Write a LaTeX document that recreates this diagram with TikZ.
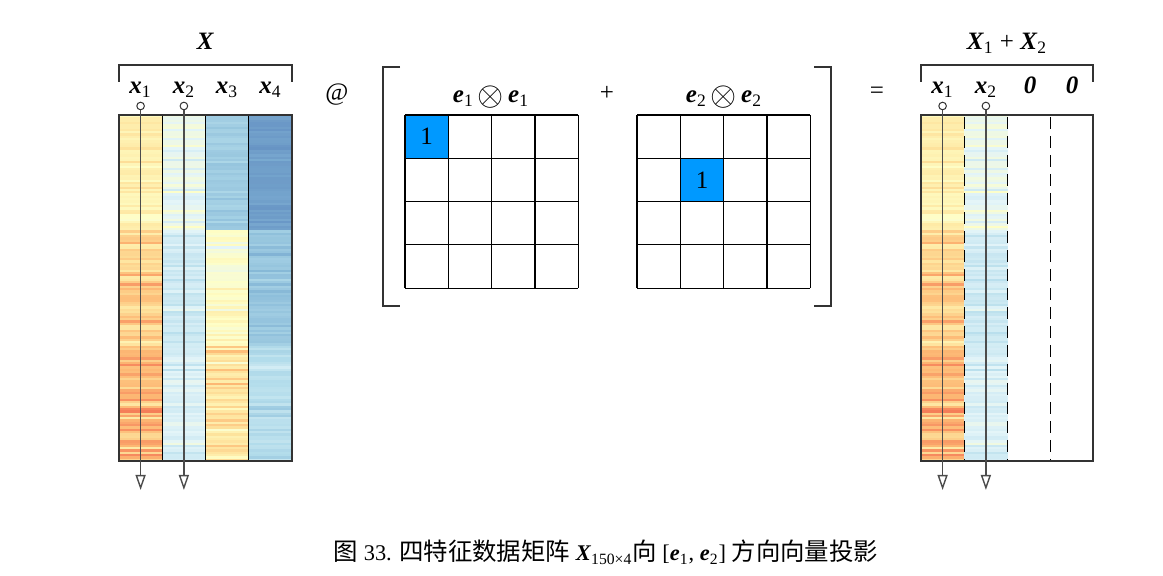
\documentclass[tikz,border=0pt]{standalone}
\usepackage{graphicx}
\usepackage{fontspec}
\setmainfont{Liberation Serif}
\newfontfamily\cjk[Scale=1.09]{Noto Sans CJK SC}
\usetikzlibrary{arrows.meta}
\definecolor{cellblue}{RGB}{0,153,255}
\newcommand{\bvec}[2]{\textbf{\textit{#1}}\textsubscript{#2}}
\newcommand{\kron}{\,\raisebox{-0.2ex}{\scalebox{1.4}{$\otimes$}}\,}
\def\stopR{{49,69,116,171,224,255,254,253,244,215,165}}
\def\stopG{{54,117,173,217,243,255,224,174,109,48,0}}
\def\stopB{{149,180,209,233,248,191,144,97,67,39,38}}
\def\irisMu{{5.01,5.94,6.59,3.43,2.77,2.97,1.46,4.26,5.55,0.25,1.33,2.03}}
\def\irisSd{{0.35,0.52,0.64,0.38,0.31,0.32,0.17,0.47,0.55,0.11,0.20,0.27}}

\begin{document}
\begin{tikzpicture}[x=0.5pt, y=-0.5pt,
	lbl/.style={font=\fontsize{12.5}{14}\selectfont, anchor=base},
	sym/.style={font=\fontsize{12.5}{14}\selectfont},
	vecdot/.style={circle, draw=black!80, fill=white, line width=0.5pt, inner sep=0pt, minimum size=3.8pt},
	vecline/.style={draw=black!70, line width=0.7pt, -{Triangle[open, length=7.5pt, width=5pt]}},
	brkt/.style={draw=black!80, line width=0.7pt},
	cellgrid/.style={draw=black, line width=0.6pt}]
	\useasboundingbox (0,0) rectangle (1163,576);

	% heat maps of X and of X1 + X2
	\pgfmathsetseed{150}
	\foreach \row in {0,...,149}{
		\pgfmathtruncatemacro\grp{int(\row/50)}
		\pgfmathsetmacro\ytop{115+\row*2.30667}
		\foreach \col in {0,...,3}{
			\pgfmathsetmacro\val{\irisMu[3*\col+\grp]+\irisSd[3*\col+\grp]*(rand+rand+rand)}
			\pgfmathsetmacro\tval{min(max(0.13+0.085*\val,0),0.999)}
			\pgfmathtruncatemacro\seg{floor(10*\tval)}
			\pgfmathsetmacro\fpart{10*\tval-\seg}
			\pgfmathtruncatemacro\valR{\stopR[\seg]*(1-\fpart)+\stopR[\seg+1]*\fpart}
			\pgfmathtruncatemacro\valG{\stopG[\seg]*(1-\fpart)+\stopG[\seg+1]*\fpart}
			\pgfmathtruncatemacro\valB{\stopB[\seg]*(1-\fpart)+\stopB[\seg+1]*\fpart}
			\definecolor{cellc}{RGB}{\valR,\valG,\valB}
			\fill[cellc!88!white] ({119+43.25*\col},\ytop) rectangle ({162.25+43.25*\col},{\ytop+2.6});
			\ifnum\col<2
				\fill[cellc!88!white] ({921+43.25*\col},\ytop) rectangle ({964.25+43.25*\col},{\ytop+2.6});
			\fi
		}
	}

	\begin{scope}
		\foreach \xx in {162.25,205.5,248.75}
			\draw[cellgrid] (\xx,115) -- (\xx,461);
		\draw[brkt] (119,115) rectangle (292,461);
		\draw[brkt] (119,82) -- (119,65) -- (292,65) -- (292,82);
		\node[lbl] (lX) at (205.5,50) {\textbf{\textit{X}}};
		\foreach \k/\xx in {1/140.6, 2/183.9, 3/227.1, 4/270.4}
			\node[lbl] (lx\k) at (\xx,94) {\bvec{x}{\k}};
		\node[vecdot] (d1) at (140.6,106) {};
		\node[vecdot] (d2) at (183.9,106) {};
		\coordinate (tip1) at (140.6,490);
		\coordinate (tip2) at (183.9,490);
		\draw[vecline] (d1) -- (tip1);
		\draw[vecline] (d2) -- (tip2);
	\end{scope}

	\node[sym] (atsign) at (337,95) {@};

	\begin{scope}
		\draw[brkt] (400,67) -- (383,67) -- (383,306) -- (400,306);
		\draw[brkt] (814,67) -- (831,67) -- (831,306) -- (814,306);
		\fill[cellblue] (405,115) rectangle (448.3,158.3);
		\fill[cellblue] (680.3,158.3) rectangle (723.6,201.6);
		\foreach \xo in {405,637}
			\foreach \k in {0,...,4}{
				\draw[cellgrid] ({\xo+43.3*\k},115) -- ({\xo+43.3*\k},288.2);
				\draw[cellgrid] (\xo,{115+43.3*\k}) -- ({\xo+173.2},{115+43.3*\k});
			}
		\node[sym] (one1) at (426.7,136.7) {1};
		\node[sym] (one2) at (702,180) {1};
		\node[lbl] (e11) at (491,103) {\bvec{e}{1}\kron\bvec{e}{1}};
		\node[sym] (plus) at (607,93) {+};
		\node[lbl] (e22) at (724,103) {\bvec{e}{2}\kron\bvec{e}{2}};
	\end{scope}

	\node[sym] (eq) at (877,93) {=};

	\begin{scope}
		\foreach \xx in {964.25,1007.5,1050.75}
			\draw[cellgrid, dash pattern=on 6pt off 3.5pt] (\xx,117) -- (\xx,461);
		\draw[brkt] (921,115) rectangle (1093,461);
		\draw[brkt] (921,82) -- (921,65) -- (1093,65) -- (1093,82);
		\node[lbl] (rX) at (1007,50) {\textbf{\textit{X}}\textsubscript{1} + \textbf{\textit{X}}\textsubscript{2}};
		\node[lbl] (rx1) at (942.6,94) {\bvec{x}{1}};
		\node[lbl] (rx2) at (985.9,94) {\bvec{x}{2}};
		\node[lbl] (rz3) at (1030,94) {\textbf{\textit{0}}};
		\node[lbl] (rz4) at (1072,94) {\textbf{\textit{0}}};
		\node[vecdot] (rd1) at (942.6,106) {};
		\node[vecdot] (rd2) at (985.9,106) {};
		\coordinate (rtip1) at (942.6,490);
		\coordinate (rtip2) at (985.9,490);
		\draw[vecline] (rd1) -- (rtip1);
		\draw[vecline] (rd2) -- (rtip2);
	\end{scope}

	\node[anchor=base, font=\fontsize{11.2}{13}\selectfont] (cap) at (606,561)
		{{\cjk 图} 33. {\cjk 四特征数据矩阵} \textbf{\textit{X}}\textsubscript{150×4}{\cjk 向} [\bvec{e}{1}, \bvec{e}{2}] {\cjk 方向向量投影}};
\end{tikzpicture}
\end{document}
